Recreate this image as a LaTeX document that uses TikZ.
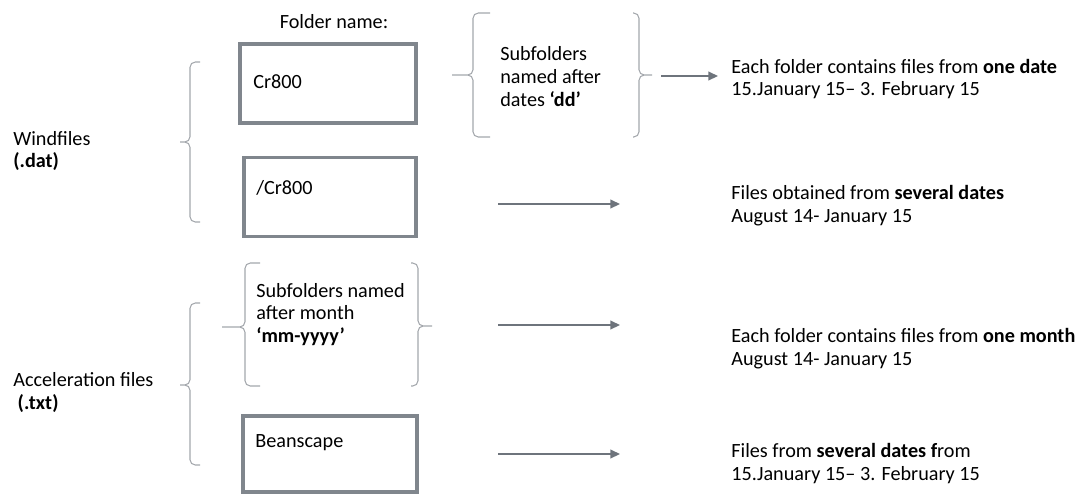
\documentclass[tikz,border=0pt]{standalone}
\usepackage{fontspec}
\setmainfont{Carlito}
\usetikzlibrary{arrows.meta}

\definecolor{boxgray}{HTML}{80868D}
\definecolor{arrowgray}{HTML}{6E747C}
\definecolor{bracegray}{HTML}{A3A7AC}

\tikzset{
    txt/.style={font=\fontsize{11.5}{13}\selectfont, inner sep=0pt, align=left},
    folderbox/.style={draw=boxgray, line width=2pt, minimum width=3.52cm, minimum height=1.58cm, inner sep=0pt},
    flow/.style={draw=arrowgray, line width=0.85pt, -{Triangle[length=5.5pt,width=5pt]}},
    brace/.style={draw=bracegray, line width=0.6pt, rounded corners=3pt}
}

\begin{document}
\begin{tikzpicture}[x=0.02cm, y=-0.02cm]
            \useasboundingbox (0,0) rectangle (1080,495);

            % left labels
            \node[txt, anchor=west] (wind) at (13,151) {Windfiles\\\textbf{(.dat)}};
            \node[txt, anchor=west] (accel) at (13,392.5) {Acceleration files\\\hspace{2.5pt}\textbf{(.txt)}};

            \draw[brace] (200,62) -- (190,62) -- (190,142) -- (180,142) (180,142) -- (190,142) -- (190,222) -- (200,222);
            \draw[brace] (200,303) -- (190,303) -- (190,385) -- (180,385) (180,385) -- (190,385) -- (190,465) -- (200,465);

            % folder boxes
            \node[txt] (fname) at (334,22) {Folder name:};

            \node[folderbox] (cr) at (328,83.5) {};
            \node[txt, anchor=west] (crlab) at (253,82) {Cr800};

            \node[folderbox, minimum width=3.44cm] (slcr) at (330,197) {};
            \node[txt, anchor=west] (slcrlab) at (256,188) {/Cr800};

            \node[txt, anchor=west] (month) at (256,314.5) {Subfolders named\\after month\\\textbf{‘mm-yyyy’}};
            \draw[brace] (260,263) -- (245,263) -- (245,327) -- (222,327) (222,327) -- (245,327) -- (245,386) -- (260,386);
            \draw[brace] (411,263) -- (418,263) -- (418,326) -- (432,326) (432,326) -- (418,326) -- (418,386) -- (411,386);

            \node[folderbox, minimum width=3.48cm, minimum height=1.52cm] (bean) at (330,454) {};
            \node[txt, anchor=west] (beanlab) at (255,443) {Beanscape};

            % subfolders of Cr800
            \node[txt, anchor=west] (days) at (500,76.5) {Subfolders\\named after\\dates \textbf{‘dd’}};
            \draw[brace] (490,13) -- (473,13) -- (473,75) -- (452,75) (452,75) -- (473,75) -- (473,137) -- (490,137);
            \draw[brace] (633,13) -- (639,13) -- (639,75) -- (652,75) (652,75) -- (639,75) -- (639,137) -- (633,137);

            % arrows
            \coordinate (a1s) at (661,76);
            \coordinate (a1e) at (718,76);
            \coordinate (a2s) at (498,204);
            \coordinate (a2e) at (620,204);
            \coordinate (a3s) at (498,325);
            \coordinate (a3e) at (620,325);
            \coordinate (a4s) at (498,454);
            \coordinate (a4e) at (620,454);
            \draw[flow] (a1s) -- (a1e);
            \draw[flow] (a2s) -- (a2e);
            \draw[flow] (a3s) -- (a3e);
            \draw[flow] (a4s) -- (a4e);

            % descriptions
            \node[txt, anchor=west] (desc1) at (731,79) {Each folder contains files from \textbf{one date}\\15.January 15– 3. February 15};
            \node[txt, anchor=west] (desc2) at (731,206) {Files obtained from \textbf{several dates}\\August 14- January 15};
            \node[txt, anchor=west] (desc3) at (731,348.5) {Each folder contains files from \textbf{one month}\\August 14- January 15};
            \node[txt, anchor=west] (desc4) at (731,463.5) {Files from \textbf{several dates f}rom\\15.January 15– 3. February 15};
        \end{tikzpicture}
\end{document}
